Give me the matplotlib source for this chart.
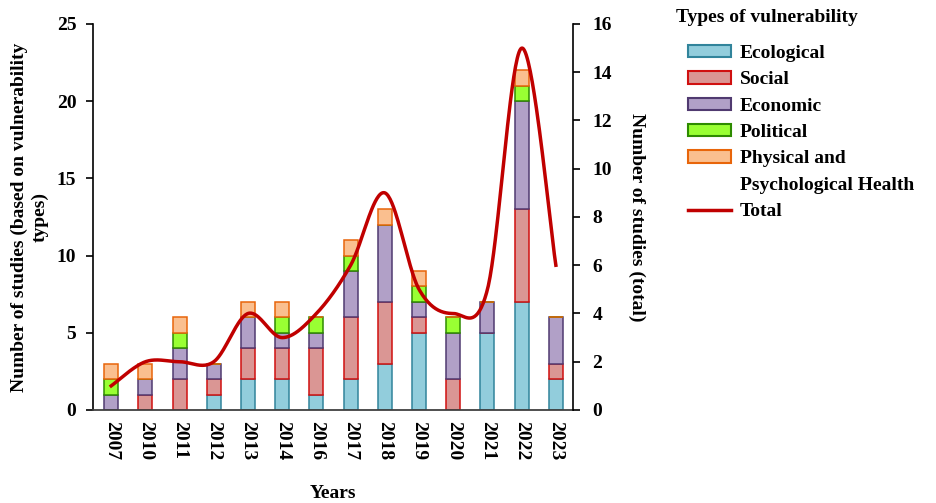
import numpy as np
import matplotlib
matplotlib.use("Agg")
from matplotlib import pyplot as plt
from matplotlib.patches import Patch
from matplotlib.lines import Line2D

years = ['2007', '2010', '2011', '2012', '2013', '2014', '2016',
         '2017', '2018', '2019', '2020', '2021', '2022', '2023']

ecological = [0, 0, 0, 1, 2, 2, 1, 2, 3, 5, 0, 5, 7, 2]
social     = [0, 1, 2, 1, 2, 2, 3, 4, 4, 1, 2, 0, 6, 1]
economic   = [1, 1, 2, 1, 2, 1, 1, 3, 5, 1, 3, 2, 7, 3]
political  = [1, 0, 1, 0, 0, 1, 1, 1, 0, 1, 1, 0, 1, 0]
physical   = [1, 1, 1, 0, 1, 1, 0, 1, 1, 1, 0, 0, 1, 0]
total      = [1, 2, 2, 2, 4, 3, 4, 6, 9, 5, 4, 5, 15, 6]

series = [
    ('Ecological', ecological, '#92CDDC', '#31849B'),
    ('Social', social, '#DA9694', '#D01010'),
    ('Economic', economic, '#B1A0C7', '#503A70'),
    ('Political', political, '#99FF33', '#2E8B00'),
    ('Physical and', physical, '#FABF8F', '#E8650A'),
]
line_color = '#C00000'

plt.rcParams['font.family'] = ['Liberation Serif', 'DejaVu Serif']
plt.rcParams['font.weight'] = 'bold'
fs = 14


def smooth_curve(x, y, n=40):
    # bezier smoothing like a spreadsheet "smoothed line"
    p = np.column_stack([x, y]).astype(float)
    ext = np.vstack([p[0], p, p[-1]])
    t = np.linspace(0, 1, n)[:, None]
    out = []
    for i in range(len(p) - 1):
        p0, p1, p2, p3 = ext[i], ext[i + 1], ext[i + 2], ext[i + 3]
        c1 = p1 + (p2 - p0) / 6
        c2 = p2 - (p3 - p1) / 6
        seg = ((1 - t) ** 3) * p1 + 3 * ((1 - t) ** 2) * t * c1 \
            + 3 * (1 - t) * t ** 2 * c2 + t ** 3 * p2
        out.append(seg if i == 0 else seg[1:])
    out = np.vstack(out)
    return out[:, 0], out[:, 1]


fig = plt.figure(figsize=(9.37, 5.03), dpi=100)
ax = fig.add_axes([0.0993, 0.1849, 0.5122, 0.7674])

x = np.arange(len(years))
bottom = np.zeros(len(years))
for name, vals, face, edge in series:
    vals = np.array(vals, dtype=float)
    ax.bar(x, vals, width=0.41, bottom=bottom, color=face,
           edgecolor=edge, linewidth=1.1, zorder=2)
    bottom += vals

ax.set_xlim(-0.53, len(years) - 0.5)
ax.set_ylim(0, 25)
ax.set_yticks(range(0, 26, 5))
ax.set_xticks(x)
ax.set_xticklabels(years, rotation=-90, fontsize=fs, fontweight='bold')
ax.tick_params(axis='x', length=0, pad=8)
ax.tick_params(axis='y', direction='out', length=5, width=1.2,
               labelsize=fs, pad=7)
ax.spines['top'].set_visible(False)
ax.spines['right'].set_visible(False)
ax.spines['left'].set_linewidth(1.2)
ax.spines['bottom'].set_color('#404040')
ax.spines['bottom'].set_linewidth(1.3)
ax.set_ylabel('Number of studies (based on vulnerability\ntypes)',
              fontsize=fs, fontweight='bold', labelpad=6)
ax.set_xlabel('Years', fontsize=fs, fontweight='bold', labelpad=18)

ax2 = ax.twinx()
sx, sy = smooth_curve(x, total)
ax2.plot(sx, sy, color=line_color, linewidth=2.5, zorder=3)
ax2.set_ylim(0, 16)
ax2.set_yticks(range(0, 17, 2))
ax2.tick_params(axis='y', direction='out', length=5, width=1.2,
                labelsize=fs, pad=9)
for s in ['top', 'left', 'bottom']:
    ax2.spines[s].set_visible(False)
ax2.spines['right'].set_linewidth(1.2)
ax2.set_ylabel('Number of studies (total)', fontsize=fs,
               fontweight='bold', rotation=-90, labelpad=24)

# legend: title as its own text, second line of the last patch label as a blank entry
handles = [Patch(facecolor=f, edgecolor=e, linewidth=1.5) for _, _, f, e in series]
handles.append(Line2D([], [], linestyle='none'))
handles.append(Line2D([0], [0], color=line_color, linewidth=2.5))
labels = [s[0] for s in series] + ['Psychological Health', 'Total']
fig.text(676 / 937, 1 - 18 / 503, 'Types of vulnerability', fontsize=fs,
         fontweight='bold', ha='left', va='center')
leg = fig.legend(handles, labels, loc='upper left',
                 bbox_to_anchor=(688 / 937, 1 - 45 / 503),
                 frameon=False, fontsize=fs, borderpad=0,
                 handlelength=2.2, handleheight=0.6,
                 handletextpad=0.45, labelspacing=0.48, borderaxespad=0)

fig.savefig('out.png', dpi=100)
